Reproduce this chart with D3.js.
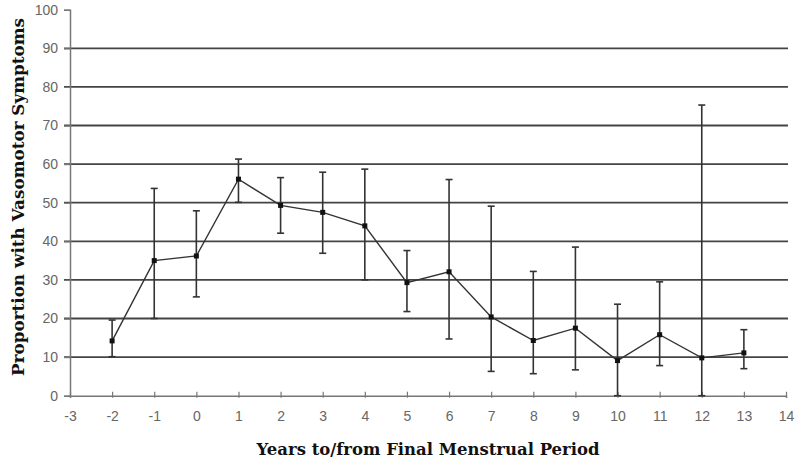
<!DOCTYPE html>
<html>
<head>
<meta charset="utf-8">
<script src="https://cdn.jsdelivr.net/npm/d3@7"></script>
<style>
  body { margin: 0; background: #fff; }
  svg { display: block; }
</style>
</head>
<body>
<svg id="svg" width="800" height="461"></svg>
<script>
var svg = d3.select("#svg");

// years relative to final menstrual period
var years = [-2, -1, 0, 1, 2, 3, 4, 5, 6, 7, 8, 9, 10, 11, 12, 13];
var proportion = [14.2, 35.0, 36.2, 56.1, 49.3, 47.5, 44.0, 29.3, 32.1, 20.4, 14.3, 17.5, 9.1, 15.8, 9.8, 11.1];
var upper = [19.6, 53.7, 47.9, 61.3, 56.5, 57.9, 58.7, 37.6, 56.0, 49.1, 32.2, 38.5, 23.7, 29.5, 75.3, 17.1];
var lower = [10.1, 20.0, 25.6, 50.1, 42.1, 36.9, 30.0, 21.8, 14.7, 6.3, 5.7, 6.7, 0, 7.8, 0, 7.0];
var xTicks = d3.range(-3, 15);
var yTicks = d3.range(0, 101, 10);

var points = years.map(function (d, i) {
    return {year: d, p: proportion[i], hi: upper[i], lo: lower[i]};
});

var x = d3.scaleLinear().domain([-3, 14]).range([70, 786]);
var y = d3.scaleLinear().domain([0, 100]).range([395.7, 9.7]);

// grid lines
svg.append("g")
    .selectAll("line")
    .data(yTicks.filter(function (d) { return d > 0 && d < 100; }))
    .enter()
    .append("line")
    .attr("x1", 64)
    .attr("x2", 788)
    .attr("y1", function (d) { return y(d); })
    .attr("y2", function (d) { return y(d); })
    .style("stroke", "#444")
    .style("stroke-width", 1.8);

var plain = function (d) { return String(d); };

// y axis
var yAxis = svg.append("g")
    .attr("transform", "translate(70,0)")
    .call(d3.axisLeft(y).tickValues(yTicks).tickSize(6).tickPadding(6).tickFormat(plain));
yAxis.select(".domain").style("stroke", "#777").style("stroke-width", 1.5);
yAxis.selectAll(".tick line").style("stroke", "#777").style("stroke-width", 1.2);
yAxis.selectAll("text")
    .style("font-family", "Arial, 'Liberation Sans', sans-serif")
    .style("font-size", "14px")
    .style("fill", "#666");

// x axis
var xAxis = svg.append("g")
    .attr("transform", "translate(0," + y(0) + ")")
    .call(d3.axisBottom(x).tickValues(xTicks).tickSize(2).tickPadding(13).tickFormat(plain));
xAxis.select(".domain").style("stroke", "#777").style("stroke-width", 1.5);
xAxis.selectAll(".tick line")
    .attr("y1", -4)
    .style("stroke", "#777").style("stroke-width", 1.2);
xAxis.selectAll("text")
    .style("font-family", "Arial, 'Liberation Sans', sans-serif")
    .style("font-size", "14px")
    .style("fill", "#666");

// error bars
var bars = svg.append("g").selectAll("g")
    .data(points)
    .enter()
    .append("g");

bars.append("line")
    .attr("x1", function (d) { return x(d.year); })
    .attr("x2", function (d) { return x(d.year); })
    .attr("y1", function (d) { return y(d.hi); })
    .attr("y2", function (d) { return y(d.lo); })
    .style("stroke", "#333")
    .style("stroke-width", 1.6);

bars.append("line")
    .attr("x1", function (d) { return x(d.year) - 3.5; })
    .attr("x2", function (d) { return x(d.year) + 3.5; })
    .attr("y1", function (d) { return y(d.hi); })
    .attr("y2", function (d) { return y(d.hi); })
    .style("stroke", "#333")
    .style("stroke-width", 1.6);

bars.append("line")
    .attr("x1", function (d) { return x(d.year) - 3.5; })
    .attr("x2", function (d) { return x(d.year) + 3.5; })
    .attr("y1", function (d) { return y(d.lo); })
    .attr("y2", function (d) { return y(d.lo); })
    .style("stroke", "#333")
    .style("stroke-width", 1.6);

// connecting line
var line = d3.line()
    .x(function (d) { return x(d.year); })
    .y(function (d) { return y(d.p); });

svg.append("path")
    .datum(points)
    .attr("d", line)
    .style("fill", "none")
    .style("stroke", "#333")
    .style("stroke-width", 1.4);

// markers
svg.append("g").selectAll("rect")
    .data(points)
    .enter()
    .append("rect")
    .attr("x", function (d) { return x(d.year) - 2.5; })
    .attr("y", function (d) { return y(d.p) - 2.5; })
    .attr("width", 5)
    .attr("height", 5)
    .style("fill", "#111");

// axis titles
svg.append("text")
    .attr("transform", "translate(18,197) rotate(-90)")
    .attr("text-anchor", "middle")
    .attr("dominant-baseline", "central")
    .attr("textLength", 358)
    .attr("lengthAdjust", "spacingAndGlyphs")
    .style("font-family", "'DejaVu Serif', 'Liberation Serif', serif")
    .style("font-weight", "bold")
    .style("font-size", "17px")
    .style("fill", "#111")
    .text("Proportion with Vasomotor Symptoms");

svg.append("text")
    .attr("x", 428)
    .attr("y", 455)
    .attr("text-anchor", "middle")
    .attr("textLength", 343)
    .attr("lengthAdjust", "spacingAndGlyphs")
    .style("font-family", "'DejaVu Serif', 'Liberation Serif', serif")
    .style("font-weight", "bold")
    .style("font-size", "17px")
    .style("fill", "#111")
    .text("Years to/from Final Menstrual Period");
</script>
</body>
</html>
